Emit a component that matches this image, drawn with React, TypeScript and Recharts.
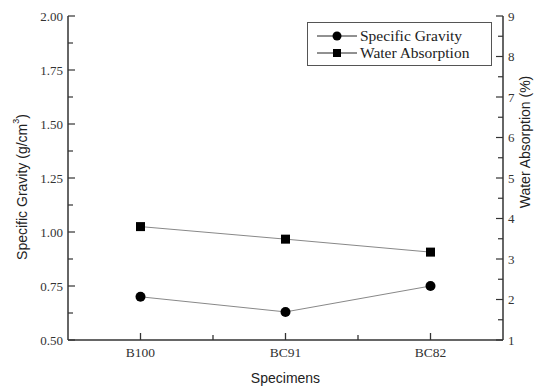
import React from 'react';
import { ComposedChart, Line, XAxis, YAxis, Legend } from 'recharts';

const categories = ['B100', 'BC91', 'BC82'];
const specificGravity = [0.70, 0.63, 0.75];
const waterAbsorption = [3.80, 3.49, 3.17];
const leftTicks = [0.5, 0.625, 0.75, 0.875, 1.0, 1.125, 1.25, 1.375, 1.5, 1.625, 1.75, 1.875, 2.0];
const leftMajorStep = 0.25;
const rightTicks = [1, 1.5, 2, 2.5, 3, 3.5, 4, 4.5, 5, 5.5, 6, 6.5, 7, 7.5, 8, 8.5, 9];

const data = categories.map((c, i) => ({ name: c, sg: specificGravity[i], wa: waterAbsorption[i] }));

const AXIS = '#333';
const SERIF = '"Liberation Serif", "Times New Roman", serif';
const SANS = '"Liberation Sans", Arial, sans-serif';

const isMajor = (v: number, base: number, step: number) => {
  const k = (v - base) / step;
  return Math.abs(k - Math.round(k)) < 1e-6;
};

const LeftTick = (props: any) => {
  const { x, y, payload } = props;
  const major = isMajor(payload.value, 0.5, leftMajorStep);
  return (
    <g>
      <line x1={x} x2={x + (major ? 7 : 5)} y1={y} y2={y} stroke={AXIS} strokeWidth={1.2} />
      {major && (
        <text x={x - 5} y={y} dy={4.5} textAnchor="end" fontFamily={SERIF} fontSize={13} fill="#333">
          {payload.value.toFixed(2)}
        </text>
      )}
    </g>
  );
};

const RightTick = (props: any) => {
  const { x, y, payload } = props;
  const major = isMajor(payload.value, 1, 1);
  return (
    <g>
      <line x1={x} x2={x - (major ? 7 : 5)} y1={y} y2={y} stroke={AXIS} strokeWidth={1.2} />
      {major && (
        <text x={x + 5} y={y} dy={4.5} textAnchor="start" fontFamily={SERIF} fontSize={13} fill="#333">
          {payload.value}
        </text>
      )}
    </g>
  );
};

const BottomTick = (props: any) => {
  const { x, y, payload } = props;
  return (
    <text x={x} y={y} dy={17} textAnchor="middle" fontFamily={SERIF} fontSize={13.5} fill="#333">
      {payload.value}
    </text>
  );
};

const LeftLabel = (props: any) => {
  const vb = props.viewBox || {};
  const cx = (vb.x || 0) + 22;
  const cy = 187;
  return (
    <text x={cx} y={cy} transform={`rotate(-90 ${cx} ${cy})`} textAnchor="middle" dominantBaseline="central" fontFamily={SANS} fontSize={14} fill="#222">
      Specific Gravity (g/cm<tspan dy={-6} fontSize={9}>3</tspan><tspan dy={6}>)</tspan>
    </text>
  );
};

const RightLabel = (props: any) => {
  const vb = props.viewBox || {};
  const cx = (vb.x || 0) + 22;
  const cy = 142;
  return (
    <text x={cx} y={cy} transform={`rotate(-90 ${cx} ${cy})`} textAnchor="middle" dominantBaseline="central" fontFamily={SANS} fontSize={14} fill="#222">
      Water Absorption (%)
    </text>
  );
};

// Bottom axis title plus inward tick marks (major at band centres, minor at band edges)
const BottomLabel = (props: any) => {
  const vb = props.viewBox || {};
  const x0 = Number(vb.x) || 0;
  const w = Number(vb.width) || 0;
  const y0 = Number(vb.y) || 0;
  const n = categories.length;
  const band = w / n;
  return (
    <g>
      {categories.map((c, i) => (
        <line key={'M' + c} x1={x0 + band * (i + 0.5)} x2={x0 + band * (i + 0.5)} y1={y0} y2={y0 - 7} stroke={AXIS} strokeWidth={1.3} />
      ))}
      {categories.slice(1).map((c, i) => (
        <line key={'m' + c} x1={x0 + band * (i + 1)} x2={x0 + band * (i + 1)} y1={y0} y2={y0 - 5} stroke={AXIS} strokeWidth={1.3} />
      ))}
      <text x={x0 + w / 2} y={y0 + 38} textAnchor="middle" dominantBaseline="central" fontFamily={SANS} fontSize={14} fill="#222">
        Specimens
      </text>
    </g>
  );
};

const Square = (props: any) => {
  const { cx, cy } = props;
  if (cx == null || cy == null) return null;
  return <rect x={cx - 4.5} y={cy - 4.5} width={9} height={9} fill="#000" />;
};

const Dot = (props: any) => {
  const { cx, cy } = props;
  if (cx == null || cy == null) return null;
  return <circle cx={cx} cy={cy} r={5} fill="#000" />;
};

const LegendBox = () => (
  <div style={{ border: '1px solid #555', background: '#fff', width: 185, height: 44, boxSizing: 'border-box', fontFamily: SERIF, fontSize: 15.5, color: '#222', position: 'relative' }}>
    {[
      { label: 'Specific Gravity', shape: 'circle' },
      { label: 'Water Absorption', shape: 'square' },
    ].map((it, i) => (
      <div key={it.label} style={{ position: 'absolute', left: 9, top: 4 + i * 17, height: 17, display: 'flex', alignItems: 'center', whiteSpace: 'nowrap' }}>
        <svg width={41} height={12} style={{ marginRight: 2 }}>
          <line x1={0} x2={40} y1={6} y2={6} stroke="#222" strokeWidth={1} />
          {it.shape === 'circle' ? <circle cx={20} cy={6} r={4.5} fill="#000" /> : <rect x={16} y={2} width={8} height={8} fill="#000" />}
        </svg>
        <span>{it.label}</span>
      </div>
    ))}
  </div>
);

export default function App() {
  return (
    <div style={{ position: 'absolute', left: 0, top: 0, background: '#fff' }}>
      <ComposedChart width={543} height={386} data={data} margin={{ top: 16, right: 0, bottom: 0, left: 0 }}>
        <XAxis xAxisId="main" dataKey="name" type="category" scale="band" height={46} tickSize={0} tickMargin={0} tickLine={false} axisLine={{ stroke: AXIS, strokeWidth: 1.5 }} tick={<BottomTick />} label={<BottomLabel />} />
        <XAxis xAxisId="top" orientation="top" type="number" domain={[0, 1]} height={0} tick={false} tickLine={false} axisLine={{ stroke: AXIS, strokeWidth: 1.5 }} />
        <YAxis yAxisId="left" orientation="left" width={68} domain={[0.5, 2]} ticks={leftTicks} interval={0} tickSize={0} tickMargin={0} tickLine={false} axisLine={{ stroke: AXIS, strokeWidth: 1.5 }} tick={<LeftTick />} label={<LeftLabel />} />
        <YAxis yAxisId="right" orientation="right" width={40} domain={[1, 9]} ticks={rightTicks} interval={0} tickSize={0} tickMargin={0} tickLine={false} axisLine={{ stroke: AXIS, strokeWidth: 1.5 }} tick={<RightTick />} label={<RightLabel />} />
        <Legend layout="horizontal" verticalAlign="middle" align="center" content={<LegendBox />} wrapperStyle={{ position: 'absolute', left: 307, top: 22, width: 'auto', height: 'auto' }} />
        <Line xAxisId="main" yAxisId="left" dataKey="sg" name="Specific Gravity" stroke="#888" strokeWidth={1} dot={<Dot />} isAnimationActive={false} />
        <Line xAxisId="main" yAxisId="right" dataKey="wa" name="Water Absorption" stroke="#888" strokeWidth={1} dot={<Square />} isAnimationActive={false} />
      </ComposedChart>
    </div>
  );
}
